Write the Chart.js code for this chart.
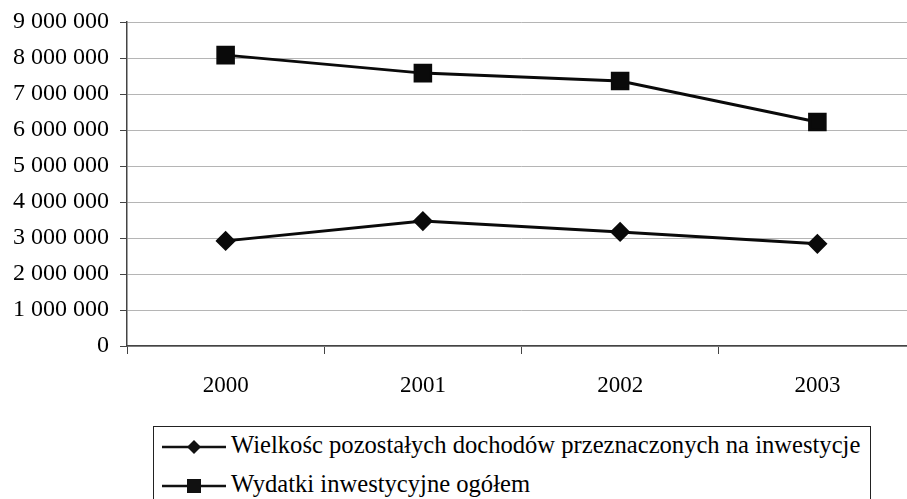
<!DOCTYPE html>
<html>
<head>
<meta charset="utf-8">
<script src="https://cdn.jsdelivr.net/npm/chart.js@4"></script>
<style>
  html, body { margin: 0; padding: 0; background: #fff; overflow: hidden; }
  #wrap { position: absolute; left: 0; top: 0; width: 930px; height: 420px; }
  #legend {
    position: absolute; left: 153px; top: 426px; width: 718px; height: 90px;
    border: 1.5px solid #222; box-sizing: border-box;
    font-family: "Liberation Serif", "DejaVu Serif", serif; font-size: 24.6px; color: #000;
  }
  .row { position: absolute; left: 6px; height: 30px; line-height: 30px; white-space: nowrap; }
  .row svg { vertical-align: middle; margin-right: 3px; }
</style>
</head>
<body>
<div id="wrap"><canvas id="myChart" width="930" height="420"></canvas></div>
<div id="legend"></div>
<script>
// dane
var lata = ["2000", "2001", "2002", "2003"];
var dochodyInwestycje = [2920000, 3470000, 3170000, 2840000];
var wydatkiInwestycyjne = [8080000, 7580000, 7360000, 6220000];
var nazwySerii = [
  "Wielkośc pozostałych dochodów przeznaczonych na inwestycje",
  "Wydatki inwestycyjne ogółem"
];
var ticksY = [0, 1000000, 2000000, 3000000, 4000000, 5000000, 6000000, 7000000, 8000000, 9000000];

function formatLiczby(v) {
  return String(v).replace(/\B(?=(\d{3})+(?!\d))/g, " ");
}

var font = "'Liberation Serif', 'DejaVu Serif', serif";

var ctx = document.getElementById('myChart').getContext('2d');
var chart = new Chart(ctx, {
  type: 'line',
  data: {
    labels: lata,
    datasets: [{
      label: nazwySerii[0],
      data: dochodyInwestycje,
      borderColor: '#0a0a0a',
      backgroundColor: '#0a0a0a',
      borderWidth: 3,
      pointStyle: 'rectRot',
      pointRadius: 8,
      pointHoverRadius: 8,
      tension: 0
    }, {
      label: nazwySerii[1],
      data: wydatkiInwestycyjne,
      borderColor: '#0a0a0a',
      backgroundColor: '#0a0a0a',
      borderWidth: 3,
      pointStyle: 'rect',
      pointRadius: 11,
      pointHoverRadius: 11,
      tension: 0
    }]
  },
  options: {
    responsive: false,
    animation: false,
    layout: { padding: { top: 22, right: 13, left: 0, bottom: 0 } },
    plugins: { legend: { display: false }, tooltip: { enabled: false } },
    scales: {
      x: {
        offset: true,
        grid: { offset: true, display: true, drawOnChartArea: false, color: '#444', tickLength: 8 },
        border: { color: '#444', width: 1.5 },
        ticks: { color: '#000', font: { family: font, size: 23 }, padding: 18 },
        afterFit: function (s) { s.height = 74; }
      },
      y: {
        min: 0,
        max: 9000000,
        afterBuildTicks: function (s) { s.ticks = ticksY.map(function (v) { return { value: v }; }); },
        grid: { color: '#b5b5b5', tickColor: '#444', tickLength: 7, lineWidth: 1 },
        border: { color: '#444', width: 1.5, dash: [] },
        ticks: {
          color: '#000',
          font: { family: font, size: 24, lineHeight: 1 },
          padding: 11,
          callback: function (v) { return formatLiczby(v); }
        },
        afterFit: function (s) { s.width = 127; s.paddingTop = 0; s.paddingBottom = 0; }
      }
    }
  }
});

// legenda
var znaczniki = [
  '<svg width="68" height="20"><line x1="2" y1="10" x2="66" y2="10" stroke="#111" stroke-width="2.5"/><polygon points="34,3 41,10 34,17 27,10" fill="#111"/></svg>',
  '<svg width="68" height="20"><line x1="2" y1="10" x2="66" y2="10" stroke="#111" stroke-width="2.5"/><rect x="27" y="3" width="14" height="14" fill="#111"/></svg>'
];
var leg = document.getElementById('legend');
nazwySerii.forEach(function (n, i) {
  var d = document.createElement('div');
  d.className = 'row';
  d.style.top = (3 + i * 39) + 'px';
  d.innerHTML = znaczniki[i] + '<span>' + n + '</span>';
  leg.appendChild(d);
});
</script>
</body>
</html>
